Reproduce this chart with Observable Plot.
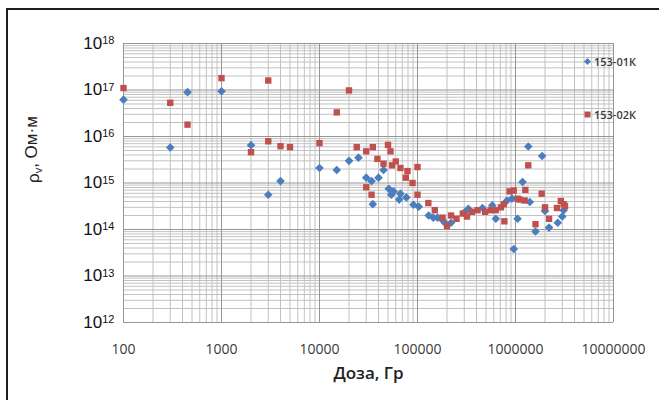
<!DOCTYPE html>
<html><head><meta charset="utf-8">
<script src="https://cdn.jsdelivr.net/npm/d3@7"></script>
<script src="https://cdn.jsdelivr.net/npm/@observablehq/plot@0.6"></script>
<style>
body{margin:0;background:#fff;}
#wrap{position:relative;width:659px;height:400px;overflow:hidden;background:#fff;}
#frame{position:absolute;left:6px;top:8px;width:800px;height:600px;border-top:2.5px solid #1e1e1e;border-left:2.5px solid #1e1e1e;pointer-events:none;}
#legend{position:absolute;left:583px;top:0;font-family:"Open Sans",sans-serif;font-size:11px;font-weight:600;color:#3a3a3a;}
.lg{position:absolute;white-space:nowrap;display:flex;align-items:center;gap:2px;}
</style>
</head><body>
<div id="wrap"><div id="chart"></div><div id="legend"></div><div id="frame"></div></div>
<script>
// ---- data ----
const seriesNames = ["153-01К", "153-02К"];
const seriesColors = ["#4a7ebf", "#c0504d"];
const blueX = [100,300,450,1000,2000,3000,4000,10000,15000,20000,25000,30000,34000,35000,40000,45000,51000,54000,57000,65000,67000,77000,91000,103000,130000,145000,160000,180000,190000,220000,300000,330000,460000,580000,630000,820000,920000,960000,1050000,1180000,1350000,1400000,1600000,1870000,2000000,2200000,2700000,3000000,3100000];
const blueY = [6.2e16,5.8e15,9e16,9.4e16,6.5e15,5.6e14,1.1e15,2.1e15,1.9e15,3.0e15,3.5e15,1.3e15,1.1e15,3.5e14,1.3e15,1.9e15,7.5e14,5.6e14,6.6e14,4.4e14,5.9e14,4.9e14,3.4e14,3.1e14,2.0e14,1.8e14,1.8e14,1.6e14,1.4e14,1.4e14,2.3e14,2.8e14,2.9e14,3.3e14,1.7e14,4.2e14,4.6e14,3.8e13,1.7e14,1.05e15,6.1e15,3.9e14,9.1e13,3.8e15,2.5e14,1.1e14,1.4e14,1.9e14,2.6e14];
const redX = [100,300,450,1000,2000,3000,3000,4000,5000,10000,15000,20000,24000,30000,30000,34000,35000,39000,45000,50000,53000,55000,60000,67000,76000,79000,89000,100000,100000,129000,150000,180000,200000,220000,250000,290000,320000,360000,410000,490000,560000,630000,710000,760000,770000,870000,960000,1050000,1100000,1240000,1260000,1350000,1600000,1850000,2000000,2200000,2650000,2900000,3100000,3200000];
const redY = [1.1e17,5.3e16,1.8e16,1.8e17,4.6e15,1.6e17,7.9e15,6.2e15,5.9e15,7.2e15,3.3e16,9.8e16,5.9e15,4.8e15,8.1e14,5.6e14,5.9e15,3.3e15,2.6e15,6.6e15,4.8e15,2.4e15,2.9e15,2.1e15,1.3e15,1.8e15,1.0e15,2.2e15,5.6e14,3.7e14,2.6e14,1.8e14,1.2e14,2.0e14,1.7e14,2.2e14,1.9e14,2.4e14,2.6e14,2.4e14,2.6e14,2.6e14,3.0e14,3.5e14,1.5e14,6.6e14,6.9e14,4.6e14,4.4e14,4.2e14,7.1e14,2.4e15,1.3e14,5.9e14,3.0e14,1.7e14,2.9e14,4.1e14,3.5e14,3.2e14];
const xTicks = [100,1000,10000,100000,1000000,10000000];
const yTicks = [1e12,1e13,1e14,1e15,1e16,1e17,1e18];
const xLabel = "Доза, Гр";
const yLabel = "ρv, Ом·м";

const blue = blueX.map((x,i)=>({x, y: blueY[i]}));
const red = redX.map((x,i)=>({x, y: redY[i]}));
const minor = (ticks) => ticks.slice(0,-1).flatMap(t => d3.range(2,10).map(k => k*t));
const xMinor = minor(xTicks), yMinor = minor(yTicks);

const chart = Plot.plot({
  width: 659, height: 400,
  marginLeft: 123, marginRight: 46, marginTop: 43, marginBottom: 78,
  style: {background: "transparent"},
  x: {type: "log", domain: [100, 1e7]},
  y: {type: "log", domain: [1e12, 1e18]},
  marks: [
    Plot.ruleX(xMinor, {stroke: "#c2c2c2", strokeWidth: 1}),
    Plot.ruleY(yMinor, {stroke: "#c2c2c2", strokeWidth: 1}),
    Plot.ruleX(xTicks, {stroke: "#959595", strokeWidth: 1}),
    Plot.ruleY(yTicks, {stroke: "#959595", strokeWidth: 1}),
    Plot.axisX(xTicks, {tickSize: 0, tickPadding: 22, tickFormat: d => String(d), fontSize: 14, fontFamily: "Open Sans", fill: "#3a3a3a", label: null}),
    Plot.axisY(yTicks, {tickSize: 0, tickPadding: 9, tickFormat: d => "10^" + Math.round(Math.log10(d)), fontSize: 17, fontFamily: "Liberation Sans", fill: "#111", label: null}),
    Plot.dot(blue, {x: "x", y: "y", symbol: "diamond2", r: 3.9, fill: seriesColors[0], stroke: "none"}),
    Plot.dot(red, {x: "x", y: "y", symbol: "square", r: 3.6, fill: seriesColors[1], stroke: "none"}),
    Plot.text([xLabel], {frameAnchor: "bottom", dy: 56, fontSize: 17, fontFamily: "Open Sans", fontWeight: 600, fill: "#222", text: d => d}),
    Plot.text([yLabel], {frameAnchor: "left", dx: -90, rotate: -90, fontSize: 17, fontFamily: "Liberation Sans", fill: "#222", text: d => d, className: "ylab"})
  ]
});
document.getElementById("chart").appendChild(chart);

const ns = "http://www.w3.org/2000/svg";
// superscripts for y tick labels
chart.querySelectorAll('g[aria-label="y-axis tick label"] text').forEach(t => {
  const [b, e] = t.textContent.split("^");
  t.textContent = "";
  const s1 = document.createElementNS(ns, "tspan");
  s1.textContent = b;
  const s2 = document.createElementNS(ns, "tspan");
  s2.textContent = e; s2.setAttribute("dy", "-0.45em"); s2.setAttribute("font-size", "11");
  t.appendChild(s1); t.appendChild(s2);
});
// subscript v in y label
chart.querySelectorAll('.ylab text').forEach(t => {
  const txt = t.textContent;
  t.textContent = "";
  const a = document.createElementNS(ns, "tspan"); a.textContent = txt[0];
  const b = document.createElementNS(ns, "tspan"); b.textContent = txt[1]; b.setAttribute("font-size", "11"); b.setAttribute("dy", "0.25em");
  const c = document.createElementNS(ns, "tspan"); c.textContent = txt.slice(2); c.setAttribute("dy", "-0.25em");
  t.appendChild(a); t.appendChild(b); t.appendChild(c);
});

// legend
const legend = document.getElementById("legend");
const legendTops = [54, 107];
seriesNames.forEach((name, i) => {
  const row = document.createElement("div");
  row.className = "lg";
  row.style.top = legendTops[i] + "px";
  const sym = i === 0
    ? `<svg width="9" height="9"><rect x="2" y="2" width="5" height="5" fill="${seriesColors[i]}" transform="rotate(45 4.5 4.5)"/></svg>`
    : `<svg width="9" height="9"><rect x="1.5" y="1.5" width="6" height="6" fill="${seriesColors[i]}"/></svg>`;
  row.innerHTML = sym + `<span>${name}</span>`;
  legend.appendChild(row);
});
</script>
</body></html>
